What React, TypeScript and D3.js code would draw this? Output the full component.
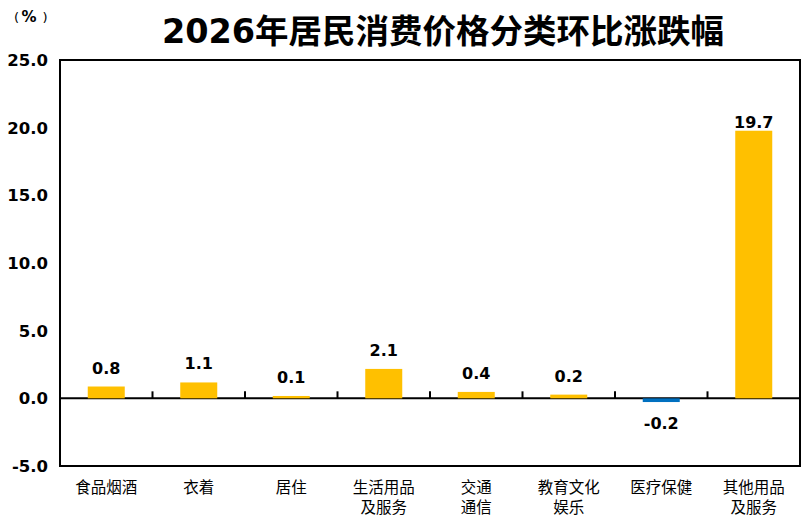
import React from "react";
import * as d3 from "d3";

const categories: string[][] = [
  ["食品烟酒"],
  ["衣着"],
  ["居住"],
  ["生活用品", "及服务"],
  ["交通", "通信"],
  ["教育文化", "娱乐"],
  ["医疗保健"],
  ["其他用品", "及服务"],
];
const values: number[] = [0.8, 1.1, 0.1, 2.1, 0.4, 0.2, -0.2, 19.7];
const yTicks: number[] = [-5, 0, 5, 10, 15, 20, 25];
const title = "2026年居民消费价格分类环比涨跌幅";

const W = 804;
const H = 526;
const M = { left: 60, right: 4, top: 60, bottom: 60 };

export default function App() {
  const x = d3
    .scaleBand<number>()
    .domain(values.map((_, i) => i))
    .range([M.left, W - M.right])
    .paddingInner(0.6)
    .paddingOuter(0.3);
  const step = x.step();
  const y = d3.scaleLinear().domain([-5, 25]).range([H - M.bottom, M.top]);
  const y0 = y(0);
  const cjk = "'DejaVu Sans', 'Noto Sans CJK SC', sans-serif";
  const bound = (i: number) => M.left + step * i;

  return (
    <svg width={W} height={H} style={{ position: "absolute", left: 0, top: 0, background: "#fff" }}>
      <text x={443} y={43} textAnchor="middle" fontFamily={cjk} fontWeight="bold" fontSize={33.5} fill="#000">
        {title}
      </text>
      <text x={14} y={22} fontFamily="'DejaVu Sans', sans-serif" fontSize={13} fill="#000">
        <tspan>(</tspan>
        <tspan dx={2.5} fontWeight="bold" fontSize={15}>%</tspan>
        <tspan dx={6}>)</tspan>
      </text>
      {yTicks.map((t) => (
        <text
          key={t}
          x={48}
          y={y(t) + 6}
          textAnchor="end"
          fontFamily="'DejaVu Sans', sans-serif"
          fontWeight="bold"
          fontSize={16.5}
          fill="#000"
        >
          {t.toFixed(1)}
        </text>
      ))}
      <line x1={M.left} x2={W - M.right} y1={y0} y2={y0} stroke="#000" strokeWidth={2} />
      {values.map((v, i) => {
        const top = y(Math.max(v, 0));
        const bot = y(Math.min(v, 0));
        const cx = (x(i) as number) + x.bandwidth() / 2;
        const off = v > 10 ? 4 : 14;
        const ly = v >= 0 ? top - off : bot + 28;
        return (
          <g key={i}>
            <rect
              x={x(i)}
              y={v >= 0 ? top - 1 : top}
              width={x.bandwidth()}
              height={Math.max(bot - top, 0) + 1}
              fill={v >= 0 ? "#FFC000" : "#0070C0"}
            />
            <text
              x={cx}
              y={ly}
              textAnchor="middle"
              fontFamily="'DejaVu Sans', sans-serif"
              fontWeight="bold"
              fontSize={16}
              fill="#000"
            >
              {v.toFixed(1)}
            </text>
            {categories[i].map((line, j) => (
              <text
                key={j}
                x={cx}
                y={H - M.bottom + 27 + j * 20}
                textAnchor="middle"
                fontFamily="'Noto Sans CJK SC', sans-serif"
                fontSize={15.5}
                fill="#000"
              >
                {line}
              </text>
            ))}
          </g>
        );
      })}
      {d3.range(1, values.length).map((i) => (
        <line key={i} x1={bound(i)} x2={bound(i)} y1={y0} y2={y0 - 7} stroke="#000" strokeWidth={2} />
      ))}
      <rect
        x={M.left}
        y={M.top}
        width={W - M.left - M.right}
        height={H - M.top - M.bottom}
        fill="none"
        stroke="#000"
        strokeWidth={2}
      />
    </svg>
  );
}
